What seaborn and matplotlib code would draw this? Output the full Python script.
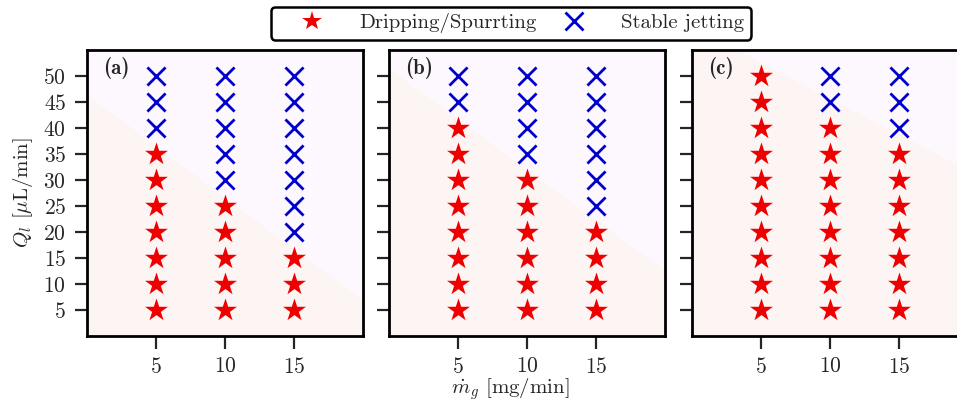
import numpy as np
import pandas as pd
import matplotlib
matplotlib.use("Agg")
import matplotlib.pyplot as plt
from matplotlib.lines import Line2D
import seaborn as sns

# gas flow rate columns and liquid flow rates per regime, one entry per panel
panels = ['(a)', '(b)', '(c)']
mg_vals = [5, 10, 15]

drip_a = {5: [5, 10, 15, 20, 25, 30, 35], 10: [5, 10, 15, 20, 25], 15: [5, 10, 15]}
jet_a = {5: [40, 45, 50], 10: [30, 35, 40, 45, 50], 15: [20, 25, 30, 35, 40, 45, 50]}
drip_b = {5: [5, 10, 15, 20, 25, 30, 35, 40], 10: [5, 10, 15, 20, 25, 30], 15: [5, 10, 15, 20]}
jet_b = {5: [45, 50], 10: [35, 40, 45, 50], 15: [25, 30, 35, 40, 45, 50]}
drip_c = {5: [5, 10, 15, 20, 25, 30, 35, 40, 45, 50], 10: [5, 10, 15, 20, 25, 30, 35, 40],
          15: [5, 10, 15, 20, 25, 30, 35]}
jet_c = {5: [], 10: [45, 50], 15: [40, 45, 50]}

# regime boundary (Q_l at m_g = 0 and m_g = 20) for the shaded background
boundary = [(46.5, 7.0), (51.5, 12.7), (59.5, 32.0)]

drip_sets = [drip_a, drip_b, drip_c]
jet_sets = [jet_a, jet_b, jet_c]

def to_frame(d):
    rows = [(m, q) for m in mg_vals for q in d[m]]
    return pd.DataFrame(rows, columns=['mg', 'Q'])

sns.set_theme(style="ticks")
plt.rcParams['font.family'] = ['cmr10', 'DejaVu Serif']
plt.rcParams['mathtext.fontset'] = 'cm'
plt.rcParams['axes.unicode_minus'] = False
plt.rcParams['axes.formatter.use_mathtext'] = True

red = '#ee0000'
blue = '#0000cc'
fs = 15

fig = plt.figure(figsize=(9.57, 4.03), dpi=100)
lefts = [87 / 957, 389 / 957, 692 / 957]
w = 276 / 957
b = 67 / 403
h = 286 / 403

for i, left in enumerate(lefts):
    ax = fig.add_axes([left, b, w, h])
    xs = np.array([0, 20])
    yb = np.array(boundary[i])
    ax.fill_between(xs, 0, yb, color='#fdf5f4', lw=0, zorder=0)
    ax.fill_between(xs, yb, 60, color='#fcf8fe', lw=0, zorder=0)

    dd = to_frame(drip_sets[i])
    jj = to_frame(jet_sets[i])
    sns.scatterplot(data=dd, x='mg', y='Q', marker='*', s=300, color=red,
                    linewidth=0, ax=ax, zorder=3)
    if len(jj):
        sns.scatterplot(data=jj, x='mg', y='Q', marker='x', s=170, color=blue,
                        linewidth=2, ax=ax, zorder=3)

    ax.set_xlim(0, 20)
    ax.set_ylim(0, 55)
    ax.set_xticks(mg_vals)
    ax.set_yticks(list(range(5, 55, 5)))
    ax.tick_params(direction='out', length=9, width=1.6, labelsize=15.5, pad=6)
    for s in ax.spines.values():
        s.set_linewidth(2)
        s.set_color('black')
    ax.set_xlabel('')
    ax.set_ylabel('')
    if i == 0:
        ax.set_ylabel(r'$Q_l$ [$\mu$L/min]', fontsize=fs, labelpad=6)
    else:
        ax.set_yticklabels([])
    ax.text(0.06, 0.975, panels[i], transform=ax.transAxes, ha='left', va='top',
            fontsize=fs, family=['cmb10', 'DejaVu Serif'])

fig.text(510 / 957, 1 / 403, r'$\dot{m}_g$ [mg/min]', ha='center', va='bottom',
         fontsize=fs)

handles = [
    Line2D([], [], marker='*', color=red, ls='none', markersize=15, markeredgewidth=0),
    Line2D([], [], marker='x', color=blue, ls='none', markersize=13, markeredgewidth=2),
]
leg = fig.legend(handles, ['Dripping/Spurrting', 'Stable jetting'], ncol=2,
                 loc='upper center', bbox_to_anchor=(511 / 957, 1 - 7 / 403),
                 fontsize=fs, frameon=True, fancybox=True, handletextpad=0.65,
                 columnspacing=0.1, borderpad=0.3, handlelength=3.3,
                 borderaxespad=0)
leg.get_frame().set_edgecolor('black')
leg.get_frame().set_linewidth(1.8)
leg.get_frame().set_alpha(1)

fig.savefig('out.png', dpi=100)
